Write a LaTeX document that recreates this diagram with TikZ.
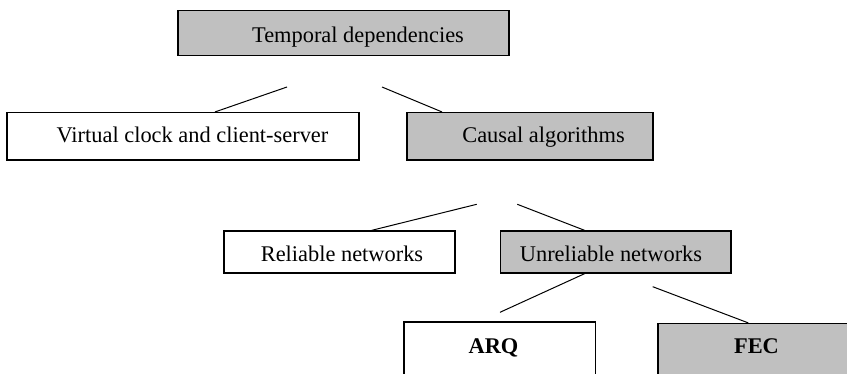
\documentclass[tikz,border=0pt]{standalone}
\usepackage{fontspec}
\setmainfont{Liberation Serif}
\usepackage{tikz}
\definecolor{boxgray}{RGB}{192,192,192}
\tikzset{
  whitebox/.style={draw,line width=1.2pt,fill=white,inner sep=0pt},
  graybox/.style={whitebox,fill=boxgray},
  boxtext/.style={anchor=base,inner sep=0pt,font=\fontsize{22.4}{26}\selectfont},
  link/.style={line width=1pt}
}
\begin{document}
\begin{tikzpicture}[x=1pt,y=-1pt]
    \useasboundingbox (0,0) rectangle (847,374);
    \clip (0,0) rectangle (847,374);
    % boxes
    \node[graybox,minimum width=331,minimum height=45] (temporal) at (343.5,33.2) {};
    \node[whitebox,minimum width=352,minimum height=47.5] (vclock) at (183,136.3) {};
    \node[graybox,minimum width=246,minimum height=47.5] (causal) at (530,136.3) {};
    \node[whitebox,minimum width=231,minimum height=42] (reliable) at (339.5,252) {};
    \node[graybox,minimum width=230.5,minimum height=42] (unreliable) at (615.75,252) {};
    \node[whitebox,minimum width=191.5,minimum height=80] (arq) at (499.75,362) {};
    \node[graybox,minimum width=242,minimum height=80] (fec) at (779,363.5) {};
    % texts
    \node[boxtext] (temporaltxt) at (358,42.7) {Temporal dependencies};
    \node[boxtext] (vclocktxt) at (192.5,143) {Virtual clock and client-server};
    \node[boxtext] (causaltxt) at (543.5,143) {Causal algorithms};
    \node[boxtext] (reliabletxt) at (342,261.7) {Reliable networks};
    \node[boxtext] (unreliabletxt) at (611,261.7) {Unreliable networks};
    \node[boxtext,font=\fontsize{22.4}{26}\selectfont\bfseries] (arqtxt) at (493.5,354) {ARQ};
    \node[boxtext,font=\fontsize{22.4}{26}\selectfont\bfseries] (fectxt) at (756.5,354) {FEC};
    % free ends of the connectors
    \coordinate (tl) at (287,87);
    \coordinate (tr) at (382,87);
    \coordinate (cl) at (476.7,204.3);
    \coordinate (cr) at (517.3,204.3);
    \coordinate (ul) at (500,312.3);
    \coordinate (ur) at (652.7,286.7);
    % connectors
    \draw[link] (tl) -- ([xshift=32]vclock.north);
    \draw[link] (tr) -- ([xshift=-88]causal.north);
    \draw[link] (cl) -- ([xshift=32]reliable.north);
    \draw[link] (cr) -- ([xshift=-31]unreliable.north);
    \draw[link] ([xshift=-31]unreliable.south) -- (ul);
    \draw[link] (ur) -- ([xshift=-30.7]fec.north);
\end{tikzpicture}
\end{document}
